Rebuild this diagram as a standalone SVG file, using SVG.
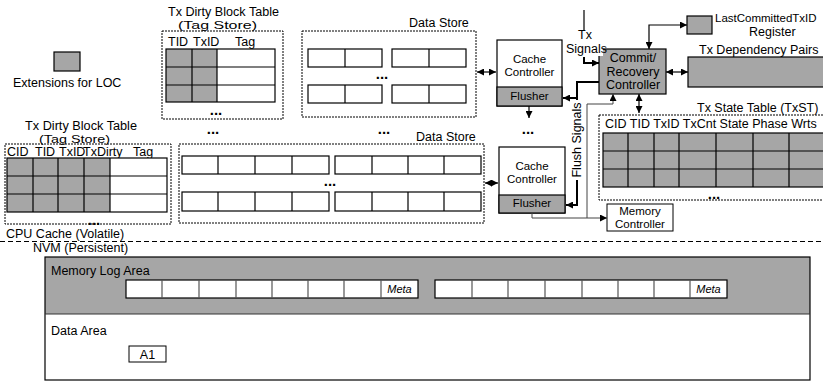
<svg xmlns="http://www.w3.org/2000/svg" width="823" height="390" viewBox="0 0 823 390">
<style>
text{font-family:"Liberation Sans",Arial,sans-serif;fill:#000}
.t{font-size:12.5px}
.s{font-size:11.5px}
.ts{font-size:10.5px}
.m{font-size:11px;font-style:italic}
.d{font-size:15px;font-weight:bold;text-anchor:middle}
.c{text-anchor:middle}
.dash{fill:none;stroke:#000;stroke-width:1;stroke-dasharray:2,1}
.g{fill:#a6a6a6}
.w{fill:#fff}
.b{stroke:#000;stroke-width:1.2}
.ln{fill:none;stroke:#000;stroke-width:1.2}
.thin{fill:none;stroke:#444;stroke-width:1}
.thick{fill:none;stroke:#000;stroke-width:2}
</style>
<defs>
<marker id="a" viewBox="0 0 10 10" refX="10" refY="5" markerWidth="7" markerHeight="7" markerUnits="userSpaceOnUse" orient="auto-start-reverse"><path d="M0,0 L10,5 L0,10 z" fill="#000"/></marker>
</defs>
<rect width="823" height="390" fill="#fff"/>

<g id="legend">
<rect x="54" y="52" width="26" height="19" class="g b"/>
<text x="13" y="87" class="t">Extensions for LOC</text>
</g>

<g id="tagstore-top">
<text x="168" y="15.5" class="t" textLength="111" lengthAdjust="spacingAndGlyphs">Tx Dirty Block Table</text>
<text x="178" y="28.5" class="ts" textLength="79" lengthAdjust="spacingAndGlyphs">(Tag Store)</text>
<rect x="162" y="31" width="121" height="88" class="dash"/>
<text x="168" y="46" class="t">TID</text>
<text x="193" y="46" class="t">TxID</text>
<text x="235" y="46" class="t">Tag</text>
<rect x="166" y="49" width="51" height="53" class="g"/>
<rect x="217" y="49" width="58" height="53" class="w"/>
<path d="M166,67H275M166,85H275M192,49V102M217,49V102" class="ln"/>
<rect x="166" y="49" width="109" height="53" class="ln"/>
<text x="216" y="115" class="d">...</text>
</g>

<g id="datastore-top">
<text x="409" y="27" class="t">Data Store</text>
<rect x="302" y="31" width="174" height="86" class="dash"/>
<g class="ln">
<rect x="308" y="49" width="74" height="18"/><path d="M345,49V67"/>
<rect x="392" y="49" width="74" height="18"/><path d="M429,49V67"/>
<rect x="308" y="85" width="74" height="18"/><path d="M345,85V103"/>
<rect x="392" y="85" width="74" height="18"/><path d="M429,85V103"/>
</g>
<text x="382" y="79" class="d">...</text>
</g>

<text x="213" y="134" class="d">...</text>
<text x="384" y="134" class="d">...</text>
<text x="528" y="134" class="d">...</text>

<g id="cache-top">
<rect x="497" y="40" width="65" height="66" class="w b"/>
<rect x="497" y="87" width="65" height="19" class="g b"/>
<text x="529.5" y="63" class="s c">Cache</text>
<text x="529.5" y="76" class="s c">Controller</text>
<text x="529.5" y="100" class="s c">Flusher</text>
</g>

<g id="tagstore-low">
<text x="25" y="129.5" class="t" textLength="112" lengthAdjust="spacingAndGlyphs">Tx Dirty Block Table</text>
<text x="39" y="142.5" class="ts" textLength="71" lengthAdjust="spacingAndGlyphs">(Tag Store)</text>
<rect x="5" y="144" width="166" height="80" class="dash"/>
<text x="7" y="156" class="t">CID</text>
<text x="35" y="156" class="t">TID</text>
<text x="59" y="156" class="t">TxID</text>
<text x="83" y="156" class="t">TxDirty</text>
<text x="133" y="156" class="t">Tag</text>
<rect x="7" y="158" width="103" height="54" class="g"/>
<rect x="110" y="158" width="57" height="54" class="w"/>
<path d="M7,176H167M7,194H167M33,158V212M58,158V212M84,158V212M110,158V212" class="ln"/>
<rect x="7" y="158" width="160" height="54" class="ln"/>
<text x="94" y="225" class="d">...</text>
</g>

<g id="datastore-low">
<text x="416" y="141" class="t">Data Store</text>
<rect x="179" y="144" width="305" height="79" class="dash"/>
<g class="ln">
<rect x="182" y="156" width="147" height="18"/><path d="M218,156V174M255,156V174M292,156V174"/>
<rect x="335" y="156" width="146" height="18"/><path d="M372,156V174M408,156V174M444,156V174"/>
<rect x="182" y="192" width="147" height="19"/><path d="M218,192V211M255,192V211M292,192V211"/>
<rect x="335" y="192" width="146" height="19"/><path d="M372,192V211M408,192V211M444,192V211"/>
</g>
<text x="330" y="186" class="d">...</text>
</g>

<g id="cache-low">
<rect x="499" y="147" width="66" height="66" class="w b"/>
<rect x="499" y="195" width="66" height="18" class="g b"/>
<text x="532" y="170" class="s c">Cache</text>
<text x="532" y="183" class="s c">Controller</text>
<text x="532" y="207" class="s c">Flusher</text>
</g>

<g id="commit">
<rect x="599" y="49" width="67" height="45" class="g b"/>
<text x="633" y="62" class="t c">Commit/</text>
<text x="633" y="76" class="t c">Recovery</text>
<text x="633" y="89" class="t c">Controller</text>
</g>

<g id="register">
<rect x="687" y="16" width="25" height="18" class="g b"/>
<text x="715" y="22" class="s">LastCommittedTxID</text>
<text x="749" y="36" class="t">Register</text>
</g>

<g id="deps">
<text x="699" y="54" class="t">Tx Dependency Pairs</text>
<rect x="688" y="57" width="145" height="30" class="g b"/>
</g>

<g id="txst">
<text x="697" y="112" class="t">Tx State Table (TxST)</text>
<rect x="599" y="115" width="240" height="85" class="dash"/>
<text x="605" y="128" class="t">CID TID TxID TxCnt State Phase Wrts</text>
<rect x="603" y="133" width="230" height="54" class="g"/>
<path d="M603,151H833M603,169H833M628,133V187M654,133V187M679,133V187M716,133V187M753,133V187M789,133V187" class="ln"/>
<rect x="603" y="133" width="230" height="54" class="ln"/>
<text x="714" y="199" class="d">...</text>
</g>

<g id="memctrl">
<rect x="607" y="204" width="66" height="27" class="w" stroke="#000" stroke-width="1"/>
<text x="640" y="215" class="s c">Memory</text>
<text x="640" y="228" class="s c">Controller</text>
</g>

<g id="connectors">
<path d="M477,72H496" class="ln" marker-start="url(#a)" marker-end="url(#a)"/>
<path d="M485,183H498" class="ln" marker-start="url(#a)" marker-end="url(#a)"/>
<path d="M529,106V118" class="ln" marker-end="url(#a)"/>
<path d="M666,72H688" class="ln" marker-start="url(#a)" marker-end="url(#a)"/>
<path d="M639,94V113" class="ln" marker-start="url(#a)" marker-end="url(#a)"/>
<path d="M687,25H649V49" class="ln" marker-start="url(#a)" marker-end="url(#a)"/>
<path d="M584,10V30" class="ln"/>
<path d="M584,57V63H599" class="thick" marker-end="url(#a)"/>
<path d="M599,82H577V100" class="thick"/>
<path d="M577,98H563" class="thick" marker-end="url(#a)"/>
<path d="M577,180V205H566" class="thick" marker-end="url(#a)"/>
<path d="M532,213V218H607" class="thin" marker-end="url(#a)"/>
<path d="M587,218V104H613V94" class="thin" marker-end="url(#a)"/>
</g>

<g id="signal-labels">
<text x="578" y="39" class="t">Tx</text>
<rect x="565" y="43" width="38" height="13" class="w"/>
<text x="566" y="53" class="t">Signals</text>
<text transform="translate(581,140) rotate(-90)" class="t c">Flush Signals</text>
</g>

<text x="6" y="238" class="t">CPU Cache (Volatile)</text>
<path d="M0,241.5H823" fill="none" stroke="#000" stroke-width="1" stroke-dasharray="5,3"/>
<text x="33" y="252" class="t">NVM (Persistent)</text>

<g id="nvm">
<rect x="45" y="257" width="765" height="57" class="g"/>
<rect x="45" y="257" width="765" height="123" fill="none" stroke="#000" stroke-width="1.2"/>
<path d="M45,314H810" stroke="#333" stroke-width="1.2"/>
<text x="51" y="275" class="t">Memory Log Area</text>
<rect x="126" y="280" width="292" height="18" class="w b"/>
<path d="M162,280V298M199,280V298M236,280V298M272,280V298M308,280V298M344,280V298M381,280V298" stroke="#555" stroke-width="1.2"/>
<text x="399.5" y="293" class="m c">Meta</text>
<rect x="435" y="280" width="292" height="18" class="w b"/>
<path d="M472,280V298M508,280V298M545,280V298M582,280V298M618,280V298M654,280V298M690,280V298" stroke="#555" stroke-width="1.2"/>
<text x="708.5" y="293" class="m c">Meta</text>
<text x="51" y="335" class="t">Data Area</text>
<rect x="129" y="346" width="37" height="16" class="w" stroke="#000" stroke-width="1"/>
<text x="147.5" y="359" class="t c">A1</text>
</g>
</svg>
